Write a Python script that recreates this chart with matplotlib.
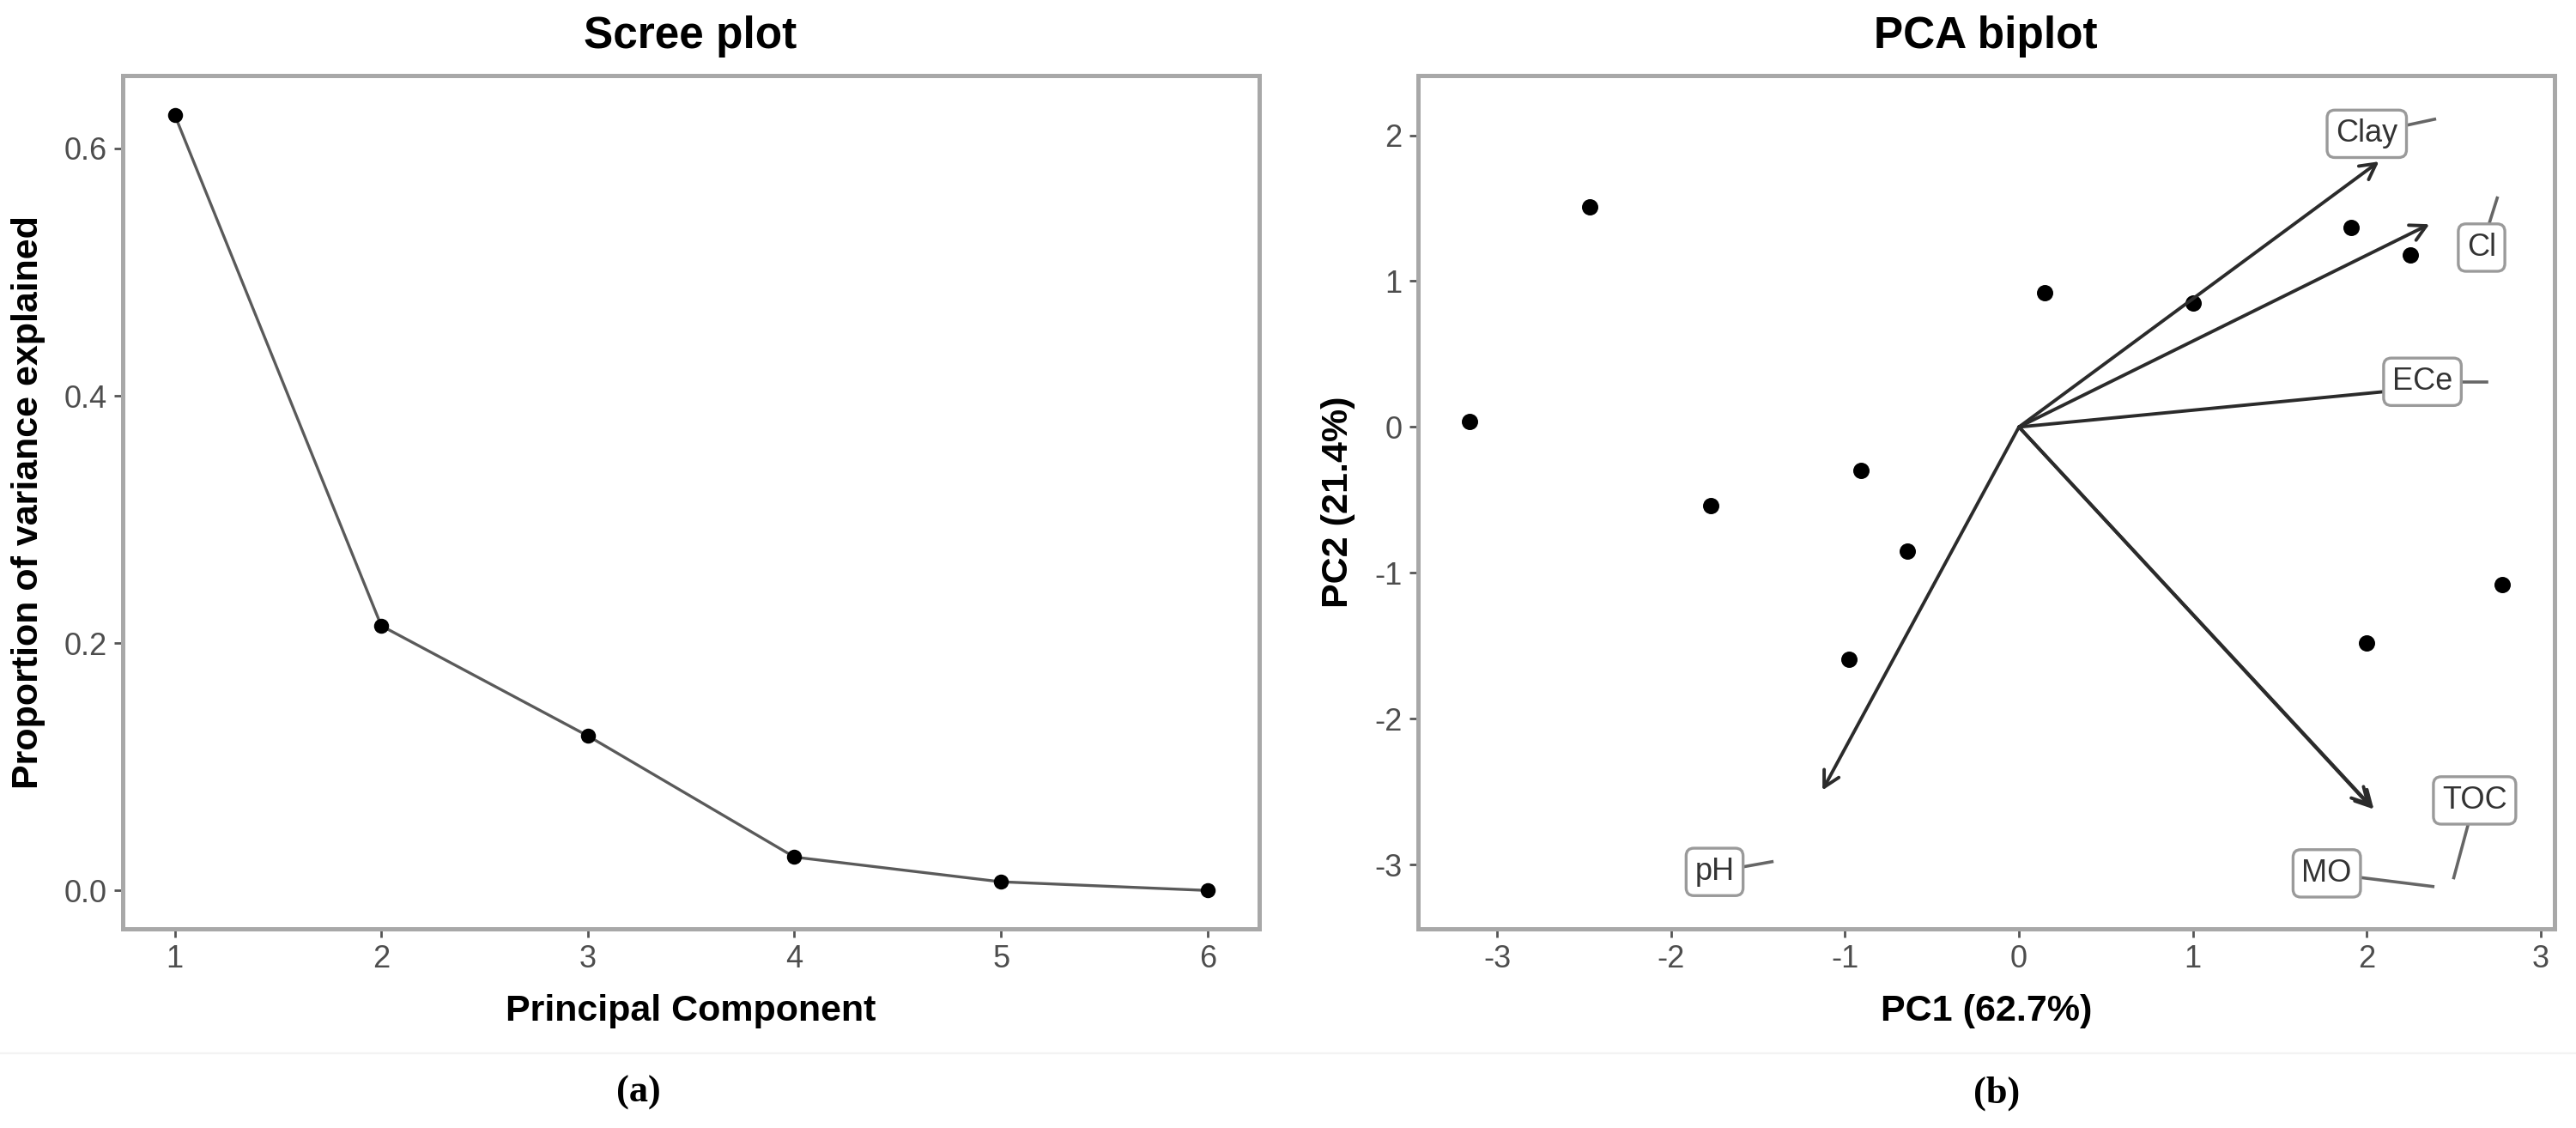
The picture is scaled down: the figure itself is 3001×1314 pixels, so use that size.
import numpy as np
import matplotlib.pyplot as plt
from matplotlib.lines import Line2D

plt.rcParams['font.family'] = ['Liberation Sans', 'DejaVu Sans']
plt.rcParams['axes.unicode_minus'] = False

# scree plot data
pcs = [1, 2, 3, 4, 5, 6]
var_explained = [0.627, 0.214, 0.125, 0.027, 0.007, 0.0]

# biplot: observation scores
obs_pc1 = [-3.16, -2.47, -1.77, -0.91, -0.64, -0.98, 0.15, 1.00, 1.91, 2.25, 2.78, 2.00]
obs_pc2 = [0.04, 1.51, -0.54, -0.30, -0.85, -1.59, 0.92, 0.85, 1.37, 1.18, -1.08, -1.48]

# biplot: variable loadings (arrow tips), label anchors and label positions
variables = ['Clay', 'Cl', 'ECe', 'MO', 'TOC', 'pH']
arrow_x = [2.07, 2.36, 2.34, 2.02, 2.04, -1.13]
arrow_y = [1.82, 1.39, 0.27, -2.60, -2.62, -2.49]
anchor_x = [2.39, 2.75, 2.69, 2.38, 2.50, -1.42]
anchor_y = [2.11, 1.57, 0.31, -3.15, -3.09, -2.98]
label_x = [2.00, 2.66, 2.32, 1.77, 2.62, -1.75]
label_y = [2.01, 1.23, 0.31, -3.06, -2.56, -3.05]

tick_col = '#4d4d4d'
border_col = '#a8a8a8'

fig = plt.figure(figsize=(3001 / 200, 1314 / 200), dpi=200)
ax1 = fig.add_axes([0.0478, 0.1766, 0.441, 0.7565])
ax2 = fig.add_axes([0.5505, 0.1766, 0.4412, 0.7565])

for ax in (ax1, ax2):
    for s in ax.spines.values():
        s.set_color(border_col)
        s.set_linewidth(1.8)
    ax.tick_params(length=3.6, width=1.0, color='#555555', labelsize=13,
                   labelcolor=tick_col, pad=3)

# ---- scree plot
ax1.plot(pcs, var_explained, color='#5a5a5a', lw=1.2, zorder=2)
ax1.scatter(pcs, var_explained, s=28, color='black', zorder=3)
ax1.set_xlim(0.75, 6.25)
ax1.set_ylim(-0.031, 0.659)
ax1.set_xticks(pcs)
ax1.set_yticks([0.0, 0.2, 0.4, 0.6])
ax1.set_yticklabels(['0.0', '0.2', '0.4', '0.6'])
ax1.set_xlabel('Principal Component', fontsize=15.5, fontweight='bold', labelpad=8)
ax1.set_ylabel('Proportion of variance explained', fontsize=15.5, fontweight='bold', labelpad=8)
fig.text(0.268, 0.968, 'Scree plot', ha='center', va='center', fontsize=18.5, fontweight='bold')

# ---- PCA biplot
ax2.scatter(obs_pc1, obs_pc2, s=34, color='black', zorder=3)
for i, name in enumerate(variables):
    ax2.annotate('', xy=(arrow_x[i], arrow_y[i]), xytext=(0, 0),
                 arrowprops=dict(arrowstyle='->,head_length=0.65,head_width=0.35',
                                 color='#2b2b2b', lw=1.4, shrinkA=0, shrinkB=0),
                 zorder=4)
    ax2.plot([label_x[i], anchor_x[i]], [label_y[i], anchor_y[i]],
             color='#666666', lw=1.3, zorder=5)
    ax2.text(label_x[i], label_y[i], name, ha='center', va='center', fontsize=13,
             color='#333333', zorder=6,
             bbox=dict(boxstyle='round,pad=0.28,rounding_size=0.25', fc='white',
                       ec='#9a9a9a', lw=1.2))
ax2.set_xlim(-3.455, 3.08)
ax2.set_ylim(-3.44, 2.41)
ax2.set_xticks([-3, -2, -1, 0, 1, 2, 3])
ax2.set_yticks([-3, -2, -1, 0, 1, 2])
ax2.set_xlabel('PC1 (62.7%)', fontsize=15.5, fontweight='bold', labelpad=8)
ax2.set_ylabel('PC2 (21.4%)', fontsize=15.5, fontweight='bold', labelpad=8)
fig.text(0.771, 0.968, 'PCA biplot', ha='center', va='center', fontsize=18.5, fontweight='bold')

# panel captions and faint separator
fig.add_artist(Line2D([0, 1], [1 - 1227 / 1314] * 2, color='#f3f3f3', lw=0.8))
fig.text(0.248, 0.031, '(a)', ha='center', va='center', fontsize=16,
         fontweight='bold', family=['Liberation Serif', 'DejaVu Serif'])
fig.text(0.775, 0.031, '(b)', ha='center', va='center', fontsize=16,
         fontweight='bold', family=['Liberation Serif', 'DejaVu Serif'])

fig.savefig('out.png', dpi=200, facecolor='white')
